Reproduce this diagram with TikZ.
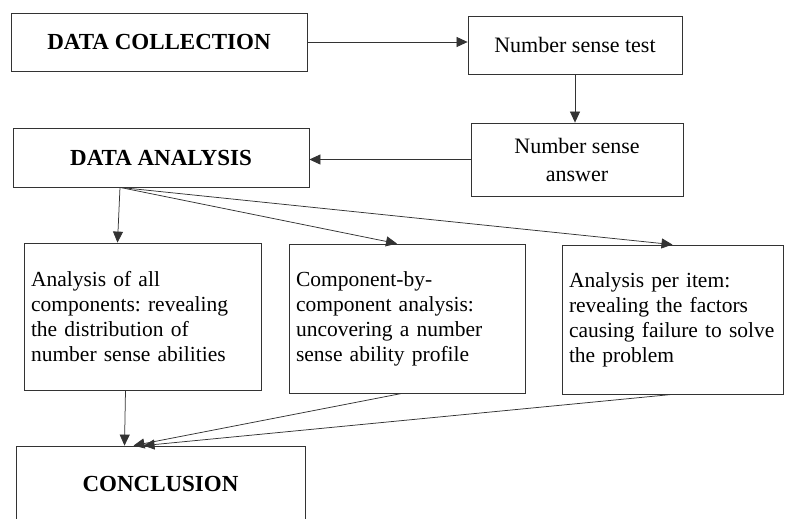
\documentclass[tikz,border=0pt]{standalone}
\usepackage{fontspec}
\setmainfont{Liberation Serif}
\usetikzlibrary{arrows.meta,positioning,calc}

\begin{document}
\frenchspacing
\begin{tikzpicture}[x=1pt, y=-1pt,
    box/.style={draw=black!80, line width=0.8pt, inner sep=0pt},
    head/.style={box, font=\fontsize{23}{26}\selectfont\bfseries},
    plain/.style={box, font=\fontsize{22}{28}\selectfont, align=center},
    textbox/.style={box, font=\fontsize{21.5}{25}\selectfont, inner xsep=7pt, align=left},
    link/.style={draw=black!80, line width=0.75pt, -{Triangle[length=11pt,width=10pt]}}]
    \useasboundingbox (0,0) rectangle (787,519);

    % Collection
    \node[head, minimum width=296pt, minimum height=58pt] (coll) at (159,42) {DATA COLLECTION};
    \node[plain, minimum width=214pt, minimum height=58pt] (test) at (575,45) {Number sense test};
    \node[plain, minimum width=212pt, minimum height=73pt] (answer) at (577,159.5) {Number sense\\answer};

    % Analysis
    \node[head, minimum width=296pt, minimum height=59pt] (analysis) at (161,157.5) {DATA ANALYSIS};

    \node[textbox, text width=223pt, minimum height=147pt] (all) at (142.5,316.5)
        {Analysis of all\\components: revealing\\the distribution of\\number sense abilities};
    \node[textbox, text width=222pt, minimum height=149pt] (comp) at (407,318.5)
        {Component-by-\\component analysis:\\uncovering a number\\sense ability profile};
    \node[textbox, text width=211pt, inner xsep=5pt, minimum height=149pt] (item) at (672.5,319.5)
        {\hspace*{2pt}Analysis per item:\\\hspace*{2pt}revealing the factors\\\hspace*{2pt}causing failure to solve\\\hspace*{2pt}the problem};

    % Conclusion
    \node[head, minimum width=289pt, minimum height=75pt] (concl) at (160.5,483.5) {CONCLUSION};

    % links
    \draw[link] (coll.east) -- (coll.east -| test.west);
    \draw[link] (test.south) -- (test.south |- answer.north);
    \draw[link] (answer.west) -- (answer.west -| analysis.east);

    \coordinate (fork) at ([xshift=-41pt]analysis.south);
    \draw[link] (fork) -- ([xshift=-25pt]all.north);
    \draw[link] (fork) -- ([xshift=-10pt]comp.north);
    \draw[link] (fork) -- (item.north);

    \draw[link] ([xshift=-17pt]all.south) -- ([xshift=-36pt]concl.north);
    \draw[link] ([xshift=-5pt]comp.south) -- ([xshift=-27pt]concl.north);
    \draw[link] (item.south) -- ([xshift=-17pt]concl.north);
\end{tikzpicture}
\end{document}
